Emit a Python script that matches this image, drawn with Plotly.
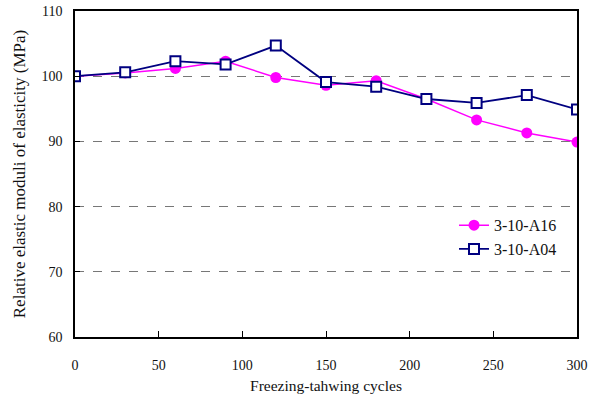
import plotly.graph_objects as go

cycles = [0, 30, 60, 90, 120, 150, 180, 210, 240, 270, 300]
a16 = [100.0, 100.5, 101.2, 102.3, 99.8, 98.6, 99.3, 96.5, 93.3, 91.3, 89.9]
a04 = [100.0, 100.6, 102.3, 101.8, 104.7, 99.1, 98.4, 96.5, 95.9, 97.1, 94.9]
x_ticks = [0, 50, 100, 150, 200, 250, 300]
y_ticks = [60, 70, 80, 90, 100, 110]

FONT = "Liberation Serif, DejaVu Serif, serif"

fig = go.Figure()
fig.add_trace(go.Scatter(
    x=cycles, y=a16, name="3-10-A16", mode="lines+markers",
    line=dict(color="#FF00FF", width=1.5),
    marker=dict(symbol="circle", size=11, color="#FF00FF"),
))
fig.add_trace(go.Scatter(
    x=cycles, y=a04, name="3-10-A04", mode="lines+markers",
    line=dict(color="#000080", width=1.8),
    marker=dict(symbol="square", size=10, color="white",
                line=dict(color="#000080", width=2)),
))

fig.update_layout(
    width=600, height=403,
    margin=dict(l=75, r=23, t=11, b=66, autoexpand=False),
    paper_bgcolor="white", plot_bgcolor="white",
    font=dict(family=FONT, size=14, color="#111"),
    legend=dict(x=0.755, y=0.395, xanchor="left", yanchor="top",
                bgcolor="rgba(0,0,0,0)", font=dict(size=16),
                tracegroupgap=0),
    showlegend=True,
)
fig.update_xaxes(
    range=[0, 300], tickvals=x_ticks, ticks="inside", ticklen=6,
    tickcolor="black", showline=True, linecolor="black", linewidth=1.5,
    mirror=True, showgrid=False, zeroline=False, automargin=False,
    ticklabelstandoff=14, tickfont=dict(size=14),
    title=dict(text="Freezing-tahwing cycles", standoff=9, font=dict(size=15.5)),
)
fig.update_yaxes(
    range=[60, 110], tickvals=y_ticks, ticks="inside", ticklen=5,
    tickcolor="black", showline=True, linecolor="black", linewidth=1.5,
    mirror=True, showgrid=True, gridcolor="#777", griddash="dash",
    gridwidth=1, zeroline=False, automargin=False,
    ticklabelstandoff=8, tickfont=dict(size=14),
    title=dict(text="Relative elastic moduli of elasticity (MPa)", standoff=12,
               font=dict(size=17)),
)

fig.write_html("out.html", config={"displayModeBar": False},
               post_script="document.body.style.margin='0';")
